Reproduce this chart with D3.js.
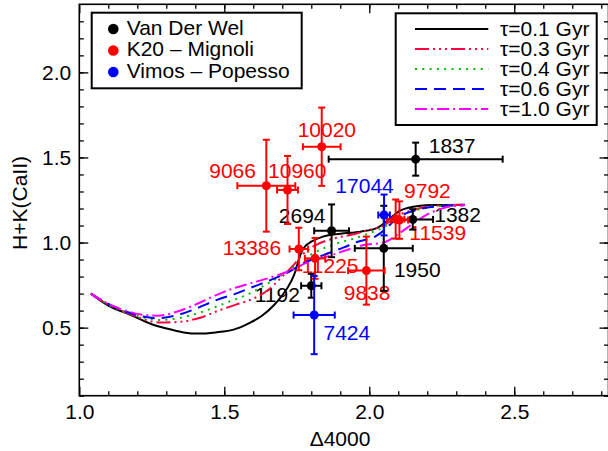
<!DOCTYPE html>
<html><head><meta charset="utf-8">
<script src="https://cdn.jsdelivr.net/npm/d3@7"></script>
<style>body{margin:0;background:#fff}svg{display:block}text{font-family:"Liberation Sans",Arial,sans-serif}</style>
</head><body><svg id="c" width="608" height="451"></svg>
<script>
// ---------- data ----------
const galaxyNames = ["1837","1382","1950","2694","1192","10020","9066","10960","13386","11225","9838","9792","11539","17044","7424"];
const galaxySurvey = [0,0,0,0,0,1,1,1,1,1,1,1,1,2,2];
const d4000     = [2.16,2.15,2.05,1.87,1.80,1.836,1.645,1.718,1.757,1.813,1.990,2.091,2.104,2.051,1.810];
const d4000Err  = [0.30,0.07,0.10,0.06,0.035,0.065,0.10,0.036,0.032,0.035,0.063,0.03,0.03,0.02,0.071];
const hk        = [1.49,1.136,0.966,1.069,0.746,1.563,1.334,1.309,0.962,0.907,0.835,1.138,1.132,1.162,0.574];
const hkErr     = [0.097,0.06,0.25,0.155,0.07,0.23,0.27,0.2,0.125,0.12,0.2,0.115,0.11,0.12,0.23];
// label anchor points (data coords, start of text baseline)
const labelX    = [2.205,2.224,2.085,1.688,1.605,1.753,1.448,1.651,1.495,1.767,1.912,2.120,2.138,1.883,1.842];
const labelY    = [1.528,1.122,0.799,1.113,0.652,1.618,1.377,1.377,0.927,0.819,0.662,1.260,1.015,1.289,0.427];
const surveyNames = ["Van Der Wel","K20 \u2013 Mignoli","Vimos \u2013 Popesso"];
const modelNames  = ["\u03c4=0.1 Gyr","\u03c4=0.3 Gyr","\u03c4=0.4 Gyr","\u03c4=0.6 Gyr","\u03c4=1.0 Gyr"];
const tau01 = [[1.04,0.70],[1.10,0.63],[1.17,0.58],[1.25,0.52],[1.30,0.495],[1.36,0.472],[1.41,0.465],[1.47,0.472],[1.535,0.49],[1.59,0.53],[1.63,0.57],[1.67,0.63],[1.70,0.69],[1.73,0.77],[1.745,0.83],[1.755,0.89],[1.765,0.94],[1.78,0.98],[1.80,1.005],[1.84,1.035],[1.90,1.052],[1.97,1.064],[2.03,1.088],[2.07,1.14],[2.11,1.19],[2.17,1.215],[2.22,1.22],[2.33,1.222]];
const tau03 = [[1.04,0.70],[1.10,0.635],[1.16,0.59],[1.22,0.55],[1.28,0.53],[1.35,0.535],[1.42,0.56],[1.48,0.60],[1.54,0.635],[1.60,0.67],[1.65,0.72],[1.70,0.80],[1.74,0.87],[1.77,0.93],[1.81,0.98],[1.88,1.025],[1.95,1.05],[2.00,1.075],[2.05,1.10],[2.10,1.16],[2.15,1.19],[2.22,1.215],[2.33,1.222]];
const tau04 = [[1.04,0.70],[1.10,0.635],[1.16,0.59],[1.22,0.56],[1.28,0.545],[1.34,0.555],[1.40,0.58],[1.46,0.615],[1.52,0.655],[1.58,0.695],[1.64,0.75],[1.70,0.81],[1.75,0.87],[1.80,0.93],[1.88,0.99],[1.95,1.025],[2.00,1.055],[2.05,1.09],[2.10,1.15],[2.15,1.185],[2.22,1.21],[2.33,1.22]];
const tau06 = [[1.04,0.70],[1.10,0.64],[1.16,0.595],[1.22,0.565],[1.27,0.555],[1.33,0.57],[1.40,0.61],[1.47,0.66],[1.54,0.70],[1.60,0.74],[1.66,0.78],[1.72,0.825],[1.77,0.875],[1.84,0.925],[1.91,0.97],[1.96,1.005],[2.02,1.035],[2.05,1.07],[2.10,1.15],[2.15,1.185],[2.22,1.21],[2.33,1.22]];
const tau10 = [[1.04,0.70],[1.10,0.64],[1.16,0.60],[1.22,0.575],[1.27,0.57],[1.33,0.59],[1.40,0.635],[1.47,0.69],[1.53,0.73],[1.60,0.765],[1.66,0.795],[1.72,0.83],[1.79,0.885],[1.86,0.92],[1.92,0.955],[1.98,0.985],[2.05,1.00],[2.10,1.05],[2.15,1.11],[2.20,1.165],[2.26,1.205],[2.33,1.22]];
const xMajor = [1.0,1.5,2.0,2.5];
const yMajor = [0.5,1.0,1.5,2.0];
const xMinor = d3.range(11,29).map(v=>v/10);
const yMinor = d3.range(1,24).map(v=>v/10);

// ---------- styles ----------
const surveyColors = ["#000000","#ff0000","#0000ff"];
const modelColors = ["#000000","#ff0040","#00c000","#0000ff","#ff00ff"];
const modelDash = ["", "14,4,2,4,2,4,2,4", "2,5.3", "12,7", "12,4,2,4"];
const models = [tau01,tau03,tau04,tau06,tau10];

const svg = d3.select("#c");
const L=79.3, R=608.5, T=4.3, B=395.7;
const x = d3.scaleLinear().domain([1.0,2.825]).range([L,R]);
const y = d3.scaleLinear().domain([0.1,2.4]).range([B,T]);
const FS = 21;

// axes (ticks inward, IDL style)
function ax(gen, tr, vals, size, labels){
  const g = svg.append("g").attr("transform",tr)
    .call(gen.tickValues(vals).tickSize(size).tickPadding(8)
      .tickFormat(labels? d3.format(".1f") : ""));
  g.select(".domain").remove();
  g.selectAll("line").attr("stroke","#000").attr("stroke-width",1.3);
  g.selectAll("text").attr("font-size",FS).attr("fill","#000")
    .attr("font-family","Liberation Sans, Arial, sans-serif");
  return g;
}
ax(d3.axisBottom(x), `translate(0,${B})`, xMajor, -9, true);
ax(d3.axisBottom(x), `translate(0,${B})`, xMinor, -4.5, false);
ax(d3.axisTop(x), `translate(0,${T})`, xMajor, -9, false);
ax(d3.axisTop(x), `translate(0,${T})`, xMinor, -4.5, false);
ax(d3.axisLeft(y), `translate(${L},0)`, yMajor, -9, true);
ax(d3.axisLeft(y), `translate(${L},0)`, yMinor, -4.5, false);
ax(d3.axisRight(y), `translate(${R},0)`, yMajor, -9, false);
ax(d3.axisRight(y), `translate(${R},0)`, yMinor, -4.5, false);
svg.append("rect").attr("x",L).attr("y",T).attr("width",R-L).attr("height",B-T)
  .attr("fill","none").attr("stroke","#000").attr("stroke-width",1.6);

svg.append("text").attr("x",340).attr("y",446).attr("text-anchor","middle")
  .attr("font-size",FS).text("\u03944000");
svg.append("text").attr("transform",`translate(27,${(T+B)/2+3}) rotate(-90)`)
  .attr("text-anchor","middle").attr("font-size",FS).text("H+K(CaII)");

// labels
galaxyNames.forEach((n,i)=>{
  svg.append("text").attr("x",x(labelX[i])).attr("y",y(labelY[i]))
    .attr("font-size",FS).attr("fill",surveyColors[galaxySurvey[i]]).text(n);
});

// model curves
const line = d3.line().x(d=>x(d[0])).y(d=>y(d[1])).curve(d3.curveMonotoneX);
models.forEach((m,i)=>{
  svg.append("path").attr("d",line(m)).attr("fill","none")
    .attr("stroke",modelColors[i]).attr("stroke-width",2)
    .attr("stroke-dasharray",modelDash[i]||null);
});

// points with error bars
galaxyNames.forEach((n,i)=>{
  const c = surveyColors[galaxySurvey[i]];
  const g = svg.append("g").attr("stroke",c).attr("stroke-width",2);
  const cx=x(d4000[i]), cy=y(hk[i]);
  const x0=x(d4000[i]-d4000Err[i]), x1=x(d4000[i]+d4000Err[i]);
  const y0=y(hk[i]-hkErr[i]), y1=y(hk[i]+hkErr[i]);
  g.append("line").attr("x1",x0).attr("x2",x1).attr("y1",cy).attr("y2",cy);
  g.append("line").attr("x1",x0).attr("x2",x0).attr("y1",cy-3.5).attr("y2",cy+3.5);
  g.append("line").attr("x1",x1).attr("x2",x1).attr("y1",cy-3.5).attr("y2",cy+3.5);
  g.append("line").attr("x1",cx).attr("x2",cx).attr("y1",y0).attr("y2",y1);
  g.append("line").attr("x1",cx-3.5).attr("x2",cx+3.5).attr("y1",y0).attr("y2",y0);
  g.append("line").attr("x1",cx-3.5).attr("x2",cx+3.5).attr("y1",y1).attr("y2",y1);
  svg.append("circle").attr("cx",cx).attr("cy",cy).attr("r",4.5).attr("fill",c);
});

// legend 1
svg.append("rect").attr("x",91.7).attr("y",12.7).attr("width",210).attr("height",75.6)
  .attr("fill","#fff").attr("stroke","#000").attr("stroke-width",2);
surveyNames.forEach((s,i)=>{
  const by = 34.5+i*21.5;
  svg.append("circle").attr("cx",113.3).attr("cy",by-5.5).attr("r",5.3).attr("fill",surveyColors[i]);
  svg.append("text").attr("x",126.7).attr("y",by).attr("font-size",FS).text(s);
});
// legend 2
svg.append("rect").attr("x",395.7).attr("y",13.3).attr("width",201).attr("height",111.7)
  .attr("fill","#fff").attr("stroke","#000").attr("stroke-width",2);
modelNames.forEach((s,i)=>{
  const by = 35.5+i*20;
  svg.append("line").attr("x1",415).attr("x2",488.3).attr("y1",by-6.5).attr("y2",by-6.5)
    .attr("stroke",modelColors[i]).attr("stroke-width",2)
    .attr("stroke-dasharray",modelDash[i]||null);
  svg.append("text").attr("x",500).attr("y",by).attr("font-size",FS).text(s);
});
</script></body></html>
